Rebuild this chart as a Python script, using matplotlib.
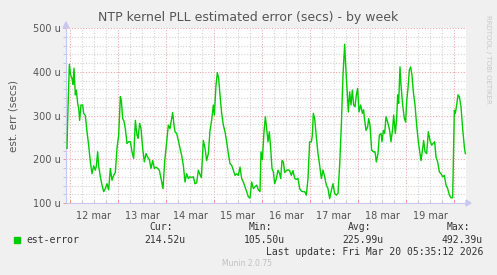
import matplotlib
matplotlib.use("Agg")
import matplotlib.pyplot as plt
from matplotlib.ticker import MultipleLocator, FixedLocator

# hours since 12 Mar 00:00, and est-error in microseconds
hours = [
    -1.5, -1.0, -0.33, 0.33, 1.0, 1.5, 2.0, 2.67, 3.17, 3.83, 4.33, 4.83, 5.5, 6.33, 6.83,
    7.67, 8.5, 9.33, 10.17, 11.0, 11.83, 12.67, 13.17, 13.83, 14.33, 15.17, 16.0, 16.83,
    17.67, 18.5, 19.33, 20.17, 21.0, 21.83, 22.67, 23.5, 24.33, 25.17, 25.67, 26.33, 27.0,
    27.67, 28.5, 29.33, 30.17, 31.0, 31.83, 32.67, 33.5, 34.0, 34.83, 35.5, 36.33, 37.17,
    38.0, 38.83, 39.67, 40.5, 41.33, 42.17, 43.0, 43.83, 44.67, 45.5, 46.5, 47.33, 48.17,
    49.17, 50.0, 50.83, 51.33, 52.0, 52.5, 53.33, 54.17, 55.0, 55.83, 56.67, 57.5, 58.33,
    59.17, 60.0, 60.83, 61.67, 62.5, 63.33, 64.17, 65.0, 65.67, 66.67, 67.5, 68.33, 69.17,
    70.0, 70.83, 71.67, 72.17, 73.0, 73.67, 74.33, 75.0, 75.83, 76.67, 77.5, 78.33, 79.17,
    80.0, 80.83, 81.67, 82.5, 83.33, 84.17, 85.0, 85.83, 86.67, 87.5, 88.33, 89.17, 90.0,
    90.83, 91.67, 92.5, 93.33, 94.17, 95.0, 95.5, 96.17, 97.0,
    97.67, 98.33, 99.0, 99.67, 100.33, 101.0, 101.67, 102.33, 103.17, 104.0, 104.83, 105.33,
    106.0, 106.67, 107.33, 108.17, 109.0, 109.83, 110.67, 111.5, 112.33, 113.17, 114.0,
    114.83, 115.67, 116.5, 117.33, 118.17, 119.0, 119.83, 120.67, 121.17, 121.67, 122.33,
    123.17, 124.0, 124.83, 125.67, 126.5, 127.33, 128.17, 129.0, 129.83, 130.67, 131.5,
    132.33, 133.17, 134.0, 134.83, 135.67, 136.5, 137.33, 137.83, 138.5, 139.17, 139.83,
    140.5, 141.17, 141.83, 142.5, 143.17, 143.83, 144.5, 145.33, 146.17,
    146.83, 147.17, 148.0, 148.83, 149.33, 150.0, 150.83, 151.67, 152.5, 153.17, 154.0,
    154.67, 155.5, 156.0, 156.67, 157.33, 158.0, 158.83, 159.67, 160.5, 161.33, 161.83,
    162.67, 163.33, 163.83, 164.33, 165.0, 165.5, 166.33, 167.17, 167.83, 168.33, 169.0,
    169.67, 170.33, 171.0, 171.67, 172.5, 173.33, 174.17, 175.0, 175.5, 176.0, 176.83,
    177.5, 178.33, 179.17, 180.0, 180.83, 181.5, 182.33, 183.0, 183.83, 184.67, 185.5,
    186.33, 187.17, 188.0, 188.83, 189.67, 190.5, 191.33, 192.17, 192.67, 193.33, 194.0,
    194.67, 195.5, 196.33, 197.17, 197.67,
]
est_error = [
    225, 317, 417, 392, 385, 371, 408, 347, 358, 328, 317, 289, 324, 324, 305,
    300, 263, 232, 194, 167, 185, 175, 185, 217, 185, 160, 141, 126,
    133, 144, 130, 179, 152, 163, 170, 225, 255, 343, 335, 293, 287,
    270, 236, 240, 240, 217, 202, 289, 255, 248, 282, 270, 225, 194,
    213, 205, 199, 179, 197, 179, 182, 179, 175, 156, 133, 194, 232,
    278, 270, 293, 307, 278, 263, 259, 243, 225, 209, 186, 148, 167,
    156, 160, 158, 160, 144, 146, 175, 165, 158, 243, 225, 197, 213,
    266, 289, 324, 301, 370, 398, 385, 347, 305, 278, 263, 240, 213,
    190, 186, 175, 163, 167, 163, 182, 156, 148, 137, 126, 114, 111,
    148, 133, 137, 141, 130, 126, 217, 199, 263,
    297, 270, 240, 263, 225, 179, 171, 144, 156, 175, 167, 156,
    197, 194, 170, 174, 176, 174, 163, 174, 156, 154, 156,
    133, 127, 126, 126, 118, 156, 240, 240, 255, 305, 293,
    251, 213, 186, 156, 175, 160, 141, 133, 110, 129, 144,
    122, 118, 122, 186, 278, 392, 463, 415, 362, 308, 354,
    324, 358, 324, 320, 347, 362, 308, 324, 305,
    313, 295, 266, 274, 293, 278, 221, 217, 217, 194, 213,
    255, 259, 240, 266, 259, 297, 285, 270, 240, 270, 301,
    259, 293, 347, 328, 411, 370, 324, 293, 285, 332, 362,
    404, 411, 392, 354, 324, 278, 240, 213, 197, 213, 243,
    217, 213, 263, 243, 232, 236, 240, 205, 194, 171, 167,
    160, 163, 141, 133, 118, 112, 112, 312, 305, 324, 347,
    343, 320, 270, 228, 213,
]
day_labels = ["12 mar", "13 mar", "14 mar", "15 mar", "16 mar", "17 mar", "18 mar", "19 mar"]
y_ticks = [100, 200, 300, 400, 500]

BG = "#F0F0F0"
AXIS = "#C8C8F0"
TXT = "#555555"

fig = plt.figure(figsize=(4.97, 2.75), dpi=100, facecolor=BG)
ax = fig.add_axes([66 / 497, 72 / 275, 400 / 497, 175 / 275])
ax.set_facecolor("white")
ax.set_xlim(-2, 198)
ax.set_ylim(100, 500)

# grid: grey every 6 h / 20u, red every day / 100u
ax.xaxis.set_major_locator(FixedLocator([24 * i for i in range(9)]))
ax.xaxis.set_minor_locator(MultipleLocator(6))
ax.yaxis.set_major_locator(FixedLocator(y_ticks))
ax.yaxis.set_minor_locator(MultipleLocator(20))
ax.grid(which="minor", color="#D4D4D4", linestyle=(0, (1, 1.5)), linewidth=0.8)
ax.grid(which="major", color="#F0A8A8", linestyle=(0, (1, 1.5)), linewidth=0.8)
ax.set_axisbelow(True)

ax.plot(hours, est_error, color="#00CC00", linewidth=1.0, zorder=3)

ax.set_xticklabels([])
ax.set_yticklabels([f"{v} u" for v in y_ticks], fontsize=7, color=TXT)
for i, lab in enumerate(day_labels):
    ax.text(12 + 24 * i, -0.045, lab, transform=ax.get_xaxis_transform(),
            ha="center", va="top", fontsize=7, color=TXT)
ax.tick_params(which="both", direction="out", length=2, width=0.6, pad=2)
ax.tick_params(which="minor", color="#C0C0C0")
ax.tick_params(which="major", color="#F08080")
ax.tick_params(axis="x", which="both", direction="in", length=2)

for s in ["top", "right"]:
    ax.spines[s].set_visible(False)
for s in ["left", "bottom"]:
    ax.spines[s].set_color(AXIS)
    ax.spines[s].set_linewidth(0.8)

# axis arrows
fig.patches.append(plt.Polygon([(466 / 497, 75 / 275), (466 / 497, 69 / 275), (471 / 497, 72 / 275)],
                               closed=True, color=AXIS, transform=fig.transFigure))
fig.patches.append(plt.Polygon([(63 / 497, 247 / 275), (69 / 497, 247 / 275), (66 / 497, 253 / 275)],
                               closed=True, color=AXIS, transform=fig.transFigure))

fig.text(248 / 497, 1 - 17 / 275, "NTP kernel PLL estimated error (secs) - by week",
         ha="center", va="center", fontsize=9, color=TXT)
fig.text(13 / 497, 1 - 116 / 275, "est. err (secs)", rotation=90,
         ha="center", va="center", fontsize=7.5, color=TXT)
fig.text(488 / 497, 1 - 15 / 275, "RRDTOOL / TOBI OETIKER", rotation=270,
         ha="center", va="top", fontsize=5, color="#C8C8C8")

# legend
mono = "DejaVu Sans Mono"
fig.patches.append(plt.Rectangle((14 / 497, 1 - 243 / 275), 6 / 497, 6 / 275,
                                 color="#00CC00", transform=fig.transFigure))
fig.text(26 / 497, 1 - 240 / 275, "est-error", family=mono, fontsize=7,
         ha="left", va="center", color="#333333")
stats = [("Cur:", "214.52u", 173, 185), ("Min:", "105.50u", 272, 285),
         ("Avg:", "225.99u", 371, 383), ("Max:", "492.39u", 470, 483)]
for head, val, hx, vx in stats:
    fig.text(hx / 497, 1 - 227 / 275, head, family=mono, fontsize=7,
             ha="right", va="center", color="#333333")
    fig.text(vx / 497, 1 - 240 / 275, val, family=mono, fontsize=7,
             ha="right", va="center", color="#333333")
fig.text(483 / 497, 1 - 252 / 275, "Last update: Fri Mar 20 05:35:12 2026", family=mono,
         fontsize=7, ha="right", va="center", color="#333333")
fig.text(247 / 497, 1 - 263 / 275, "Munin 2.0.75", fontsize=5.5,
         ha="center", va="center", color="#C0C0C0")

fig.savefig("out.png", dpi=100, facecolor=BG)
